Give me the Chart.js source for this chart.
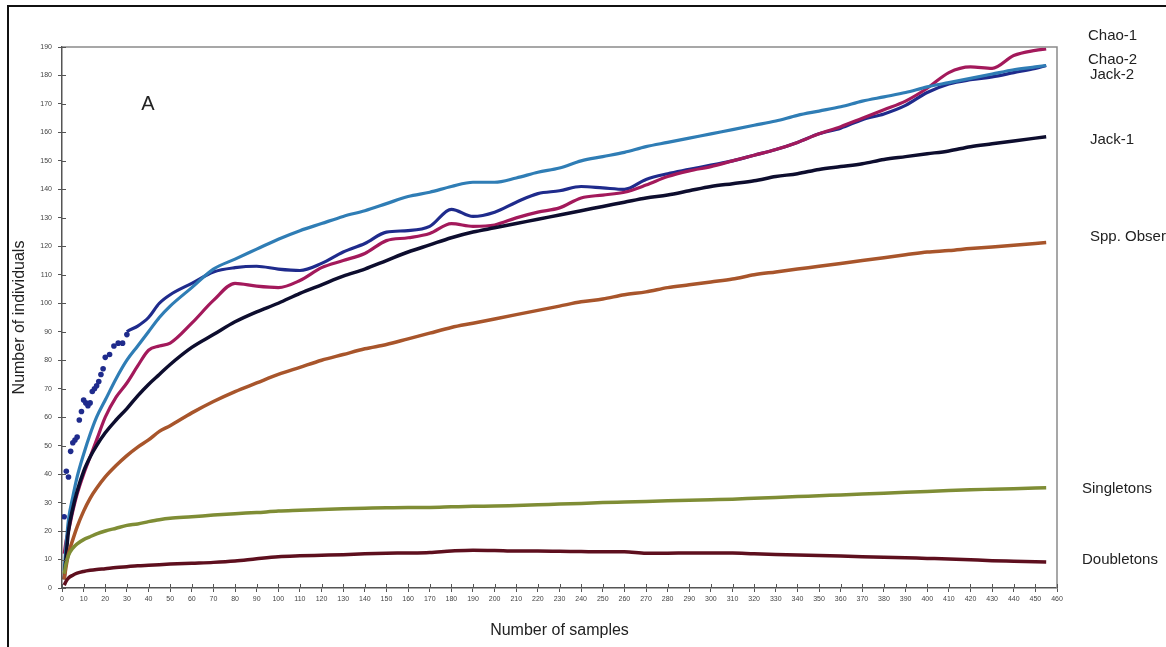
<!DOCTYPE html>
<html>
<head>
<meta charset="utf-8">
<script src="https://cdn.jsdelivr.net/npm/chart.js@4/dist/chart.umd.min.js"></script>
<style>
  html, body { margin: 0; padding: 0; background: #ffffff; }
  #wrap { position: relative; width: 1166px; height: 647px; overflow: hidden; background: #fff; }
  #frame { position: absolute; left: 7px; top: 5px; width: 1200px; height: 700px;
           border-left: 2px solid #111; border-top: 2px solid #111; }
  canvas { position: absolute; left: 0; top: 0; }
</style>
</head>
<body>
<div id="wrap">
  <div id="frame"></div>
  <canvas id="c" width="1166" height="647"></canvas>
</div>
<script>
// ---- data ----
const samples = [1,2,3,5,7,10,13,16,20,25,30,35,40,45,50,60,70,80,90,100,110,120,130,140,150,160,170,180,190,200,210,220,230,240,250,260,270,280,290,300,310,320,330,340,350,360,370,380,390,400,410,420,430,440,450,455];

const chao1 = [12,17,20,27,33,40,46,52,60,67,72,78,83.5,85,86,93,101,107,106,105.5,108,112.5,115,117.5,122,123,124.5,128,127,127.5,130,132,133.5,137,138,139,141.5,144.5,146.5,148,150,152,154,156.5,159.5,162,165,168,171,175.5,181,183,182.5,187,188.8,189.3];
const chao2 = [26,41,38,52,55,66,64,72,80,86,90,92,95,100,103,107,111,112.5,113,112,111.5,114,118,121,125,125.5,127,133,130.5,132,135.5,138.5,139.5,141,140.5,140,143.5,145.5,147,148.5,150,152,154,156.5,159.5,161.5,164.5,166.5,169.5,174,177,178.5,179.5,181,182.5,183.5];
// Chao-2 scattered early estimates (first samples)
const chao2EarlySamples = [1,2,3,4,5,6,7,8,9,10,11,12,13,14,15,16,17,18,19,20,22,24,26,28,30];
const chao2Early = [25,41,39,48,51,52,53,59,62,66,65,64,65,69,70,71,72.5,75,77,81,82,85,86,86,89];
const jack2 = [6,16,24,32,39,47,54,60,66,73.5,80,85,90,95,99,105.5,112,115.5,119,122.5,125.5,128,130.5,132.5,135,137.5,139,141,142.5,142.5,144,146,147.5,150,151.5,153,155,156.5,158,159.5,161,162.5,164,166,167.5,169,171,172.5,174,176,177.5,179,180.5,182,183,183.5];
const jack1 = [3,12,20,28,34,41,46,50,54.5,59,63,67.5,71.5,75,78.5,84.5,89,93.5,97,100,103.5,106.5,109.5,112,115,118,120.5,123,125,126.5,128,129.5,131,132.5,134,135.5,137,138,139.5,141,142,143,144.5,145.5,147,148,149,150.5,151.5,152.5,153.5,155,156,157,158,158.5];
const sppObserved = [3,8,12,17,21.5,27,31.5,35,39,43,46.5,49.5,52,55,57,61.5,65.5,69,72,75,77.5,80,82,84,85.5,87.5,89.5,91.5,93,94.5,96,97.5,99,100.5,101.5,103,104,105.5,106.5,107.5,108.5,110,111,112,113,114,115,116,117,118,118.5,119.2,119.8,120.4,121,121.3];
const singletons = [5,9,11.5,14,15.5,17,18,19,20,21,22,22.5,23.3,24,24.5,25,25.6,26.1,26.5,27,27.3,27.6,27.8,28,28.2,28.3,28.3,28.5,28.7,28.8,29,29.2,29.5,29.7,30,30.2,30.4,30.6,30.8,31,31.2,31.5,31.8,32.1,32.4,32.7,33,33.3,33.6,33.9,34.2,34.5,34.7,34.9,35.1,35.2];
const doubletons = [1,2.5,3.5,4.5,5.2,5.8,6.2,6.5,6.8,7.2,7.5,7.8,8,8.2,8.4,8.7,9,9.5,10.3,11,11.3,11.5,11.7,12,12.2,12.3,12.5,13,13.3,13.2,13,13,12.9,12.8,12.7,12.7,12.2,12.2,12.3,12.3,12.3,12,11.8,11.6,11.4,11.2,11,10.8,10.6,10.4,10.2,9.9,9.6,9.4,9.2,9.1];

const seriesNames = ['Chao-1','Chao-2','Jack-2','Jack-1','Spp. Observed','Singletons','Doubletons'];
const xMax = 460, yMax = 190, xStep = 10, yStep = 10;

// ---- build ----
const toXY = (xs, arr) => arr.map((v, i) => ({ x: xs[i], y: v }));

function ds(label, values, color, width, hideBefore) {
  const d = {
    label, data: toXY(samples, values),
    borderColor: color, backgroundColor: color,
    borderWidth: width,
    pointRadius: 0,
    cubicInterpolationMode: 'monotone',
    fill: false
  };
  if (hideBefore) {
    d.segment = { borderColor: c => (c.p1.parsed.x <= hideBefore ? 'rgba(0,0,0,0)' : color) };
  }
  return d;
}

const C2 = '#1f2b8c';

const labelPlugin = {
  id: 'extras',
  afterDraw(chart) {
    const { ctx, chartArea: a, scales: { x, y } } = chart;
    ctx.save();
    ctx.strokeStyle = '#8a8a8a';
    ctx.lineWidth = 1.5;
    ctx.beginPath();
    ctx.moveTo(a.left, a.top); ctx.lineTo(a.right, a.top); ctx.lineTo(a.right, a.bottom);
    ctx.stroke();
    ctx.strokeStyle = '#555';
    ctx.lineWidth = 1;
    ctx.beginPath();
    for (let v = 0; v <= yMax; v += yStep) {
      const py = Math.round(y.getPixelForValue(v)) + 0.5;
      ctx.moveTo(a.left, py); ctx.lineTo(a.left + 4, py);
    }
    for (let v = 0; v <= xMax; v += xStep) {
      const px = Math.round(x.getPixelForValue(v)) + 0.5;
      ctx.moveTo(px, a.bottom); ctx.lineTo(px, a.bottom - 4);
    }
    ctx.stroke();
    ctx.fillStyle = '#222';
    ctx.font = '20px "Liberation Sans", Arial, sans-serif';
    ctx.textAlign = 'center'; ctx.textBaseline = 'middle';
    ctx.fillText('A', 148, 104);
    ctx.font = '15px "Liberation Sans", Arial, sans-serif';
    ctx.textAlign = 'left';
    const pos = [[1088, 36], [1088, 60], [1090, 75], [1090, 140], [1090, 237], [1082, 489], [1082, 560]];
    seriesNames.forEach((n, i) => ctx.fillText(n, pos[i][0], pos[i][1]));
    ctx.restore();
  }
};

new Chart(document.getElementById('c'), {
  type: 'line',
  data: {
    datasets: [
      ds('Doubletons', doubletons, '#5e0f1e', 3.5),
      ds('Singletons', singletons, '#7f8d35', 3.5),
      ds('Spp. Observed', sppObserved, '#a8552b', 3.5),
      ds('Jack-1', jack1, '#0d0d2e', 3.5),
      ds('Jack-2', jack2, '#2f7db5', 3.2),
      ds('Chao-1', chao1, '#a3195b', 3.2),
      ds('Chao-2', chao2, C2, 3.2, 30),
      {
        type: 'scatter', label: 'Chao-2 early',
        data: toXY(chao2EarlySamples, chao2Early),
        showLine: false, pointRadius: 2.8, pointBorderWidth: 0,
        pointBackgroundColor: C2, backgroundColor: C2, borderColor: C2
      }
    ]
  },
  options: {
    responsive: false,
    animation: false,
    events: [],
    layout: { padding: { left: 0, right: 109, top: 47, bottom: 0 } },
    plugins: { legend: { display: false }, tooltip: { enabled: false } },
    scales: {
      x: {
        type: 'linear', min: 0, max: xMax,
        afterFit: s => { s.height = 59; },
        grid: { drawOnChartArea: false, tickLength: 4, color: '#555' },
        border: { color: '#555', width: 1.5 },
        ticks: { stepSize: xStep, autoSkip: false, maxRotation: 0, padding: 3,
                 color: '#444', font: { size: 7, family: '"Liberation Sans", Arial, sans-serif' } },
        title: { display: true, text: 'Number of samples', color: '#222',
                 padding: { top: 0, bottom: 7 },
                 font: { size: 16, family: '"Liberation Sans", Arial, sans-serif' } }
      },
      y: {
        type: 'linear', min: 0, max: yMax,
        afterFit: s => { s.width = 62; },
        grid: { drawOnChartArea: false, tickLength: 4, color: '#555' },
        border: { color: '#555', width: 1.5 },
        ticks: { stepSize: yStep, autoSkip: false, padding: 6,
                 color: '#444', font: { size: 7, family: '"Liberation Sans", Arial, sans-serif' } },
        title: { display: true, text: 'Number of individuals', color: '#222',
                 padding: { top: 10, bottom: 0 },
                 font: { size: 16, family: '"Liberation Sans", Arial, sans-serif' } }
      }
    }
  },
  plugins: [labelPlugin]
});
</script>
</body>
</html>
